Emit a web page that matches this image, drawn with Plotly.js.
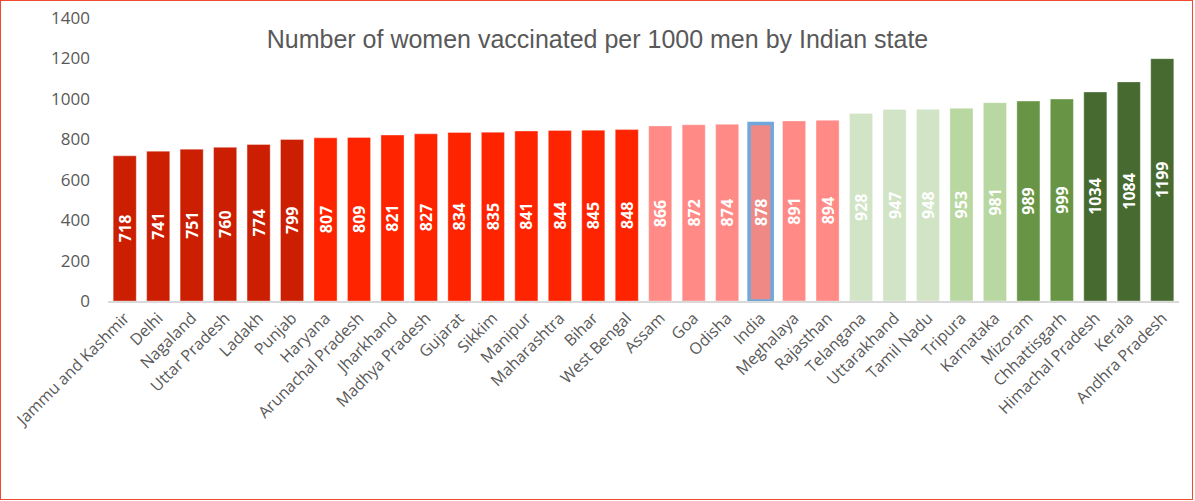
<!DOCTYPE html>
<html>
<head>
<meta charset="utf-8">
<script src="https://cdn.plot.ly/plotly-3.0.1.min.js"></script>
<style>
  html, body { margin: 0; padding: 0; background: #fff; }
  #wrap { position: relative; width: 1195px; height: 501px; }
  #chart { width: 1195px; height: 501px; }
  #frame { position: absolute; left: 0; top: 0; width: 1193px; height: 500px; box-sizing: border-box; border: 1.5px solid #F0492E; pointer-events: none; }
</style>
</head>
<body>
<div id="wrap"><div id="chart"></div><div id="frame"></div></div>
<script>
const states = ["Jammu and Kashmir", "Delhi", "Nagaland", "Uttar Pradesh", "Ladakh", "Punjab", "Haryana", "Arunachal Pradesh", "Jharkhand", "Madhya Pradesh", "Gujarat", "Sikkim", "Manipur", "Maharashtra", "Bihar", "West Bengal", "Assam", "Goa", "Odisha", "India", "Meghalaya", "Rajasthan", "Telangana", "Uttarakhand", "Tamil Nadu", "Tripura", "Karnataka", "Mizoram", "Chhattisgarh", "Himachal Pradesh", "Kerala", "Andhra Pradesh"];
const womenPer1000 = [718, 741, 751, 760, 774, 799, 807, 809, 821, 827, 834, 835, 841, 844, 845, 848, 866, 872, 874, 878, 891, 894, 928, 947, 948, 953, 981, 989, 999, 1034, 1084, 1199];
const yTicks = [0, 200, 400, 600, 800, 1000, 1200, 1400];

// colour groups (style)
const groupColors = [
  ["#CC1E00", 6], ["#FF2400", 10], ["#FF8A86", 3], ["#EE8985", 1], ["#FF8A86", 2],
  ["#D1E4C5", 3], ["#B9D7A1", 2], ["#689545", 2], ["#476A31", 3]
];
const barColors = [];
groupColors.forEach(([c, n]) => { for (let i = 0; i < n; i++) barColors.push(c); });
const lineColors = states.map(s => s === "India" ? "#6FA8DC" : "rgba(255,255,255,0.35)");
const lineWidths = states.map(s => s === "India" ? 3.5 : 1);

const trace = {
  type: "bar",
  x: states,
  y: womenPer1000,
  text: womenPer1000.map(String),
  textposition: "inside",
  insidetextanchor: "middle",
  textangle: -90,
  texttemplate: "%{text}",
  textfont: { family: "Open Sans, sans-serif", size: 16, color: "#ffffff", weight: "bold" },
  constraintext: "none",
  marker: { color: barColors, line: { color: lineColors, width: lineWidths } },
  hoverinfo: "x+y"
};

const layout = {
  width: 1195,
  height: 501,
  margin: { l: 108, r: 16, t: 18, b: 200 },
  paper_bgcolor: "#ffffff",
  plot_bgcolor: "#ffffff",
  bargap: 0.31,
  showlegend: false,
  title: {
    text: "Number of women vaccinated per 1000 men by Indian state",
    font: { family: "Liberation Sans, Arial, sans-serif", size: 25, color: "#595959" },
    x: 0.5, xref: "container", xanchor: "center",
    y: 1 - 39 / 501, yref: "container", yanchor: "middle"
  },
  xaxis: {
    type: "category",
    tickangle: -45,
    tickfont: { family: "Open Sans, sans-serif", size: 16, color: "#595959" },
    showline: true, linecolor: "#D9D9D9", linewidth: 1.5,
    showgrid: false, ticks: "", zeroline: false
  },
  yaxis: {
    range: [0, 1400],
    tickvals: yTicks,
    ticktext: yTicks.map(String),
    tickfont: { family: "Open Sans, sans-serif", size: 17, color: "#595959" },
    showgrid: false, zeroline: false, showline: false, ticks: "",
    ticklabelstandoff: 17
  }
};

Plotly.newPlot("chart", [trace], layout, { displayModeBar: false, staticPlot: true });
</script>
</body>
</html>
